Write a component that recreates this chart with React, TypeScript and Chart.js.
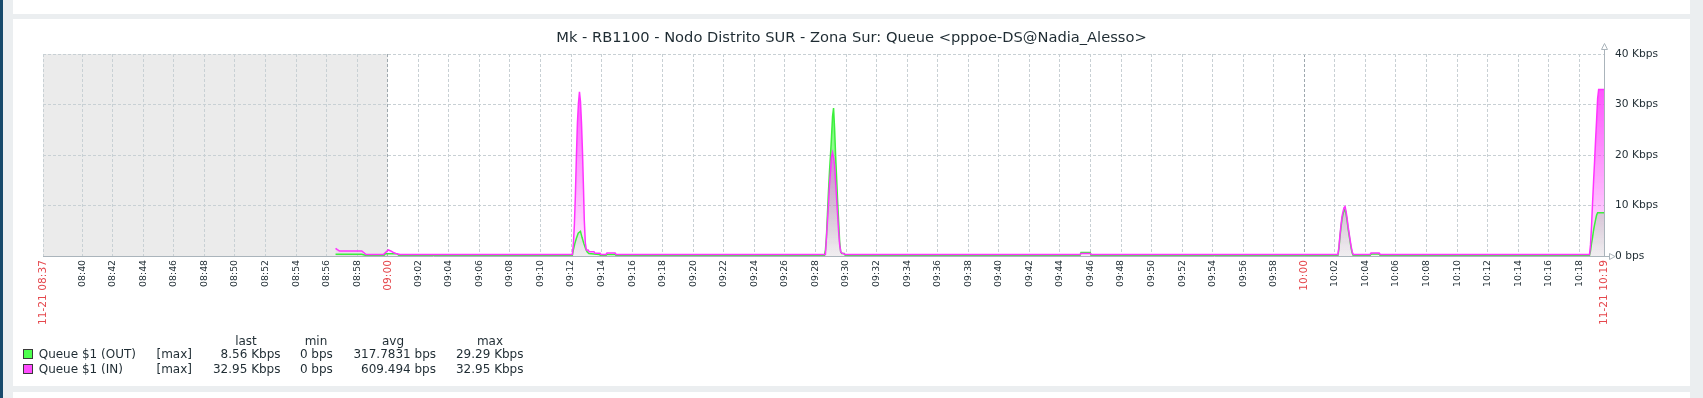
import React, { useEffect, useRef } from "react";
import { Chart, registerables } from "chart.js";

Chart.register(...registerables);

const GRAPH_TITLE = "Mk - RB1100 - Nodo Distrito SUR - Zona Sur: Queue <pppoe-DS@Nadia_Alesso>";
const PERIOD_START = "08:37:26";
const PERIOD_END = "10:19:37";
const WORK_START = "09:00:00";
const START_LABEL = "11-21 08:37";
const END_LABEL = "11-21 10:19";
const TIME_TICKS = [
  "08:40", "08:42", "08:44", "08:46", "08:48", "08:50", "08:52", "08:54", "08:56", "08:58",
  "09:00", "09:02", "09:04", "09:06", "09:08", "09:10", "09:12", "09:14", "09:16", "09:18",
  "09:20", "09:22", "09:24", "09:26", "09:28", "09:30", "09:32", "09:34", "09:36", "09:38",
  "09:40", "09:42", "09:44", "09:46", "09:48", "09:50", "09:52", "09:54", "09:56", "09:58",
  "10:00", "10:02", "10:04", "10:06", "10:08", "10:10", "10:12", "10:14", "10:16", "10:18",
];
const MAJOR_TICKS = ["09:00", "10:00"];
const Y_TICKS = [0, 10000, 20000, 30000, 40000];
const Y_TICK_LABELS = ["0 bps", "10 Kbps", "20 Kbps", "30 Kbps", "40 Kbps"];

const IN_TIMES = [
  "08:56:35", "08:56:42", "08:56:50", "08:58:18", "08:58:35", "08:59:43", "09:00:02", "09:00:12",
  "09:00:22", "09:00:32", "09:00:48",
  "09:12:05", "09:12:09", "09:12:13", "09:12:17", "09:12:21", "09:12:25", "09:12:29", "09:12:33",
  "09:12:37", "09:12:41", "09:12:45", "09:12:49", "09:12:52", "09:12:56", "09:13:00", "09:13:07",
  "09:13:11", "09:13:30", "09:13:34", "09:13:54", "09:13:58",
  "09:14:17", "09:14:21", "09:14:53", "09:14:57",
  "09:28:39", "09:28:43", "09:28:47", "09:28:51", "09:28:55", "09:28:59", "09:29:03", "09:29:07",
  "09:29:11", "09:29:15", "09:29:19", "09:29:23", "09:29:27", "09:29:31", "09:29:35", "09:29:39",
  "09:29:43", "09:29:53", "09:29:57",
  "09:45:19", "09:45:23", "09:45:59", "09:46:03",
  "10:02:12", "10:02:16", "10:02:20", "10:02:24", "10:02:28", "10:02:32", "10:02:36", "10:02:40",
  "10:02:44", "10:02:48", "10:02:52", "10:02:56", "10:03:00", "10:03:04", "10:03:08", "10:03:12",
  "10:04:18", "10:04:22", "10:04:54", "10:04:58",
  "10:18:40", "10:18:44", "10:18:48", "10:18:52", "10:18:56", "10:19:00", "10:19:04", "10:19:08",
  "10:19:12", "10:19:16", "10:19:37",
];
const IN_VALUES = [
  1520, 1250, 1000, 1000, 300, 300, 1190, 1000,
  700, 500, 300,
  300, 2200, 6100, 12000, 19700, 26300, 30200, 32500,
  30600, 26300, 20400, 13000, 7100, 2600, 1200, 1200,
  850, 850, 530, 530, 300,
  300, 600, 600, 300,
  300, 3500, 6800, 10100, 14100, 16700, 19700, 20500,
  19500, 18000, 14700, 11400, 8100, 4800, 2200, 850,
  600, 400, 300,
  300, 500, 500, 300,
  300, 1850, 4150, 6100, 7800, 8800, 9600, 9800,
  8800, 7450, 5800, 4500, 3150, 1850, 850, 300,
  300, 600, 600, 300,
  300, 2200, 5800, 10400, 14700, 18700, 23000, 26900,
  31200, 32950, 32950,
];

const OUT_TIMES = [
  "08:56:35", "08:58:18", "08:58:35", "08:59:45", "08:59:50", "09:00:35", "09:00:45",
  "09:12:05", "09:12:09", "09:12:15", "09:12:21", "09:12:28", "09:12:37", "09:12:43", "09:12:50",
  "09:12:57", "09:13:03", "09:13:10", "09:13:50", "09:13:58",
  "09:14:17", "09:14:21", "09:14:53", "09:14:57",
  "09:28:35", "09:28:39", "09:28:43", "09:28:47", "09:28:51", "09:28:55", "09:28:59", "09:29:03",
  "09:29:07", "09:29:11", "09:29:15", "09:29:19", "09:29:23", "09:29:27", "09:29:31", "09:29:35",
  "09:29:39", "09:29:43", "09:29:53", "09:29:57",
  "09:45:19", "09:45:23", "09:45:59", "09:46:03",
  "10:02:12", "10:02:16", "10:02:20", "10:02:24", "10:02:28", "10:02:32", "10:02:36", "10:02:40",
  "10:02:44", "10:02:48", "10:02:52", "10:02:56", "10:03:00", "10:03:04", "10:03:08", "10:03:12",
  "10:04:18", "10:04:22", "10:04:54", "10:04:58",
  "10:18:40", "10:18:44", "10:18:48", "10:18:52", "10:18:56", "10:19:00", "10:19:04", "10:19:08",
  "10:19:12", "10:19:37",
];
const OUT_VALUES = [
  340, 340, 100, 100, 450, 450, 100,
  100, 1200, 2500, 3500, 4500, 4900, 3700, 2500,
  1500, 850, 500, 300, 100,
  100, 300, 300, 100,
  100, 1100, 3800, 8300, 12700, 16700, 20000, 23600,
  27600, 29290, 25300, 20000, 15400, 10800, 6800, 2800,
  850, 500, 500, 100,
  100, 700, 700, 100,
  100, 1500, 3800, 5700, 7300, 8300, 9000, 9300,
  8300, 7000, 5400, 4100, 2800, 1500, 600, 100,
  100, 400, 400, 100,
  100, 1000, 2500, 3700, 5100, 6200, 7200, 8100,
  8560, 8560,
];

const LEGEND_HEADERS = ["last", "min", "avg", "max"];
const OUT_NAME = "Queue $1 (OUT)";
const IN_NAME = "Queue $1 (IN)";
const DRAW_FUNC = "[max]";
const OUT_STATS = ["8.56 Kbps", "0 bps", "317.7831 bps", "29.29 Kbps"];
const IN_STATS = ["32.95 Kbps", "0 bps", "609.494 bps", "32.95 Kbps"];

const OUT_COLOR = "#3cf03c";
const IN_COLOR = "#ff33ff";
const TEXT = "#1f2c33";
const RED = "#e5484d";
const FONT = "'DejaVu Sans', sans-serif";

const toSec = (t: string) => {
  const p = t.split(":").map(Number);
  return p[0] * 3600 + p[1] * 60 + (p[2] || 0);
};

const T0 = toSec(PERIOD_START);
const T1 = toSec(PERIOD_END);
const RED_VALUES = new Set([T0, T1, ...MAJOR_TICKS.map(toSec)]);
const MAJOR_VALUES = new Set(MAJOR_TICKS.map(toSec));

const makeGradient = (rgb: string) => (c: any) => {
  const chart = c.chart;
  const a = chart.chartArea;
  if (!a) return "transparent";
  const g = chart.ctx.createLinearGradient(0, a.top, 0, a.bottom);
  g.addColorStop(0, `rgba(${rgb},1)`);
  g.addColorStop(1, `rgba(${rgb},0.08)`);
  return g;
};

const decorPlugin = {
  id: "zbxDecor",
  beforeDraw(chart: any) {
    const { ctx, chartArea: a, scales } = chart;
    const x = scales.x;
    const x0 = x.getPixelForValue(T0);
    const x1 = x.getPixelForValue(toSec(WORK_START));
    ctx.save();
    ctx.fillStyle = "#ebebeb";
    ctx.fillRect(x0, a.top, x1 - x0, a.bottom - a.top);
    ctx.restore();
  },
  afterDraw(chart: any) {
    const { ctx, chartArea: a } = chart;
    const rx = Math.round(a.right) + 0.5;
    const by = Math.round(a.bottom) + 0.5;
    ctx.save();
    ctx.strokeStyle = "#aab4bb";
    ctx.fillStyle = "#ffffff";
    ctx.lineWidth = 1;
    // y axis extension + arrow
    ctx.beginPath();
    ctx.moveTo(rx, a.top);
    ctx.lineTo(rx, a.top - 5);
    ctx.stroke();
    ctx.beginPath();
    ctx.moveTo(rx, a.top - 10.5);
    ctx.lineTo(rx - 3, a.top - 4.5);
    ctx.lineTo(rx + 3, a.top - 4.5);
    ctx.closePath();
    ctx.fill();
    ctx.stroke();
    // x axis extension + arrow
    ctx.beginPath();
    ctx.moveTo(a.right, by);
    ctx.lineTo(a.right + 5.5, by);
    ctx.stroke();
    ctx.beginPath();
    ctx.moveTo(a.right + 11, by);
    ctx.lineTo(a.right + 5.5, by - 3);
    ctx.lineTo(a.right + 5.5, by + 3);
    ctx.closePath();
    ctx.fill();
    ctx.stroke();
    ctx.restore();
  },
};

function ZabbixChart() {
  const ref = useRef<HTMLCanvasElement | null>(null);
  useEffect(() => {
    if (!ref.current) return;
    const xTickValues = [T0, ...TIME_TICKS.map(toSec), T1];
    const chart = new Chart(ref.current, {
      type: "line",
      data: {
        datasets: [
          {
            label: IN_NAME,
            data: IN_TIMES.map((t, i) => ({ x: toSec(t), y: IN_VALUES[i] })),
            borderColor: IN_COLOR,
            borderWidth: 1.5,
            pointRadius: 0,
            tension: 0,
            fill: "origin",
            backgroundColor: makeGradient("255,51,255"),
            order: 0,
          },
          {
            label: OUT_NAME,
            data: OUT_TIMES.map((t, i) => ({ x: toSec(t), y: OUT_VALUES[i] })),
            borderColor: OUT_COLOR,
            borderWidth: 1.5,
            pointRadius: 0,
            tension: 0,
            fill: "origin",
            backgroundColor: makeGradient("64,245,64"),
            order: 1,
          },
        ],
      },
      options: {
        animation: false,
        responsive: false,
        maintainAspectRatio: false,
        events: [],
        layout: { padding: { left: 30, top: 35, right: 0, bottom: 0 } },
        plugins: {
          legend: { display: false },
          title: { display: false },
          tooltip: { enabled: false },
          filler: { drawTime: "beforeDatasetsDraw" },
        },
        scales: {
          x: {
            type: "linear",
            min: T0,
            max: T1,
            afterBuildTicks: (scale: any) => {
              scale.ticks = xTickValues.map((v) => ({ value: v }));
            },
            afterFit: (scale: any) => {
              scale.height = 130;
            },
            ticks: {
              autoSkip: false,
              maxRotation: 90,
              minRotation: 90,
              padding: 4,
              callback: (_v: any, i: number) =>
                i === 0 ? START_LABEL : i === xTickValues.length - 1 ? END_LABEL : TIME_TICKS[i - 1],
              color: (c: any) => (c.tick && RED_VALUES.has(c.tick.value) ? RED : TEXT),
              font: (c: any) => ({
                family: FONT,
                size: c.tick && RED_VALUES.has(c.tick.value) ? 10.67 : 9.33,
              }),
            },
            grid: {
              drawTicks: false,
              lineWidth: 1,
              color: (c: any) => {
                if (!c.tick) return "#c8d0d4";
                if (c.tick.value === T1) return "rgba(0,0,0,0)";
                if (MAJOR_VALUES.has(c.tick.value)) return "#9ea8ae";
                return "#c8d0d4";
              },
            },
            border: { display: true, color: "#aab4bb", width: 1, dash: [3, 2] },
          },
          y: {
            type: "linear",
            position: "right",
            min: 0,
            max: 40000,
            afterBuildTicks: (scale: any) => {
              scale.ticks = Y_TICKS.map((v) => ({ value: v }));
            },
            afterFit: (scale: any) => {
              scale.width = 86;
            },
            ticks: {
              padding: 11,
              color: TEXT,
              font: { family: FONT, size: 10.67 },
              callback: (_v: any, i: number) => Y_TICK_LABELS[i],
            },
            grid: {
              drawTicks: false,
              lineWidth: 1,
              color: (c: any) => (c.tick && c.tick.value === 0 ? "rgba(0,0,0,0)" : "#c8d0d4"),
            },
            border: { display: true, color: "#aab4bb", width: 1, dash: [3, 2] },
          },
        },
      },
      plugins: [decorPlugin],
    } as any);
    return () => chart.destroy();
  }, []);
  return (
    <canvas
      ref={ref}
      width={1677}
      height={367}
      style={{ position: "absolute", left: 13, top: 19, width: 1677, height: 367 }}
    />
  );
}

const abs = (s: React.CSSProperties): React.CSSProperties => ({ position: "absolute", ...s });

export default function App() {
  const headerCenters = [246, 316, 393, 490];
  const statRights = [280.5, 332.8, 436, 523.5];
  const rowTops = [347.2, 361.5];
  const rows = [
    { name: OUT_NAME, color: "#4dff4d", stats: OUT_STATS },
    { name: IN_NAME, color: "#ff4dff", stats: IN_STATS },
  ];
  const textStyle: React.CSSProperties = {
    fontFamily: FONT,
    fontSize: 12,
    lineHeight: "14px",
    color: TEXT,
    whiteSpace: "nowrap",
  };
  return (
    <div
      style={abs({
        left: 0,
        top: 0,
        width: 1703,
        height: 398,
        background: "#ebeef0",
        overflow: "hidden",
        fontFamily: FONT,
      })}
    >
      <div style={abs({ left: 0, top: 0, width: 3, height: 398, background: "#174a6c" })} />
      <div style={abs({ left: 13, top: 0, width: 1677, height: 14, background: "#ffffff" })} />
      <div style={abs({ left: 13, top: 19, width: 1677, height: 367, background: "#ffffff" })} />
      <div style={abs({ left: 13, top: 392, width: 1677, height: 6, background: "#ffffff" })} />
      <ZabbixChart />
      <div
        style={abs({
          left: 13,
          top: 28.4,
          width: 1677,
          textAlign: "center",
          fontFamily: FONT,
          fontSize: 14.67,
          lineHeight: "17px",
          color: TEXT,
          whiteSpace: "nowrap",
        })}
      >
        {GRAPH_TITLE}
      </div>
      {LEGEND_HEADERS.map((h, i) => (
        <div
          key={h}
          style={abs({ ...textStyle, left: headerCenters[i], top: 333.5, transform: "translateX(-50%)" })}
        >
          {h}
        </div>
      ))}
      {rows.map((r, ri) => (
        <React.Fragment key={r.name}>
          <div
            style={abs({
              left: 23,
              top: rowTops[ri] + 2,
              width: 8,
              height: 8,
              background: r.color,
              border: "1px solid #3a3a3a",
            })}
          />
          <div style={abs({ ...textStyle, left: 38.7, top: rowTops[ri] })}>{r.name}</div>
          <div style={abs({ ...textStyle, left: 156.5, top: rowTops[ri] })}>{DRAW_FUNC}</div>
          {r.stats.map((s, si) => (
            <div
              key={si}
              style={abs({ ...textStyle, right: 1703 - statRights[si], top: rowTops[ri], textAlign: "right" })}
            >
              {s}
            </div>
          ))}
        </React.Fragment>
      ))}
    </div>
  );
}
